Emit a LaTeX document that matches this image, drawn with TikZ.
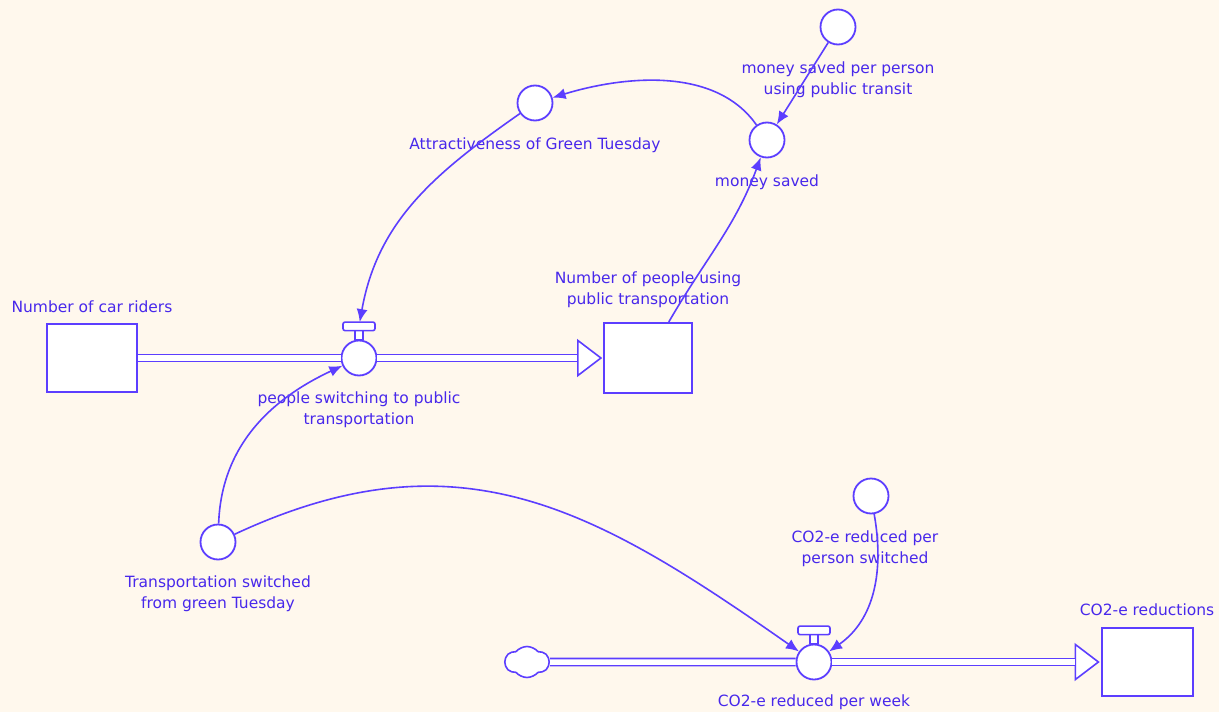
\documentclass[tikz,border=0pt]{standalone}
\usepackage{fontspec}
\setmainfont{DejaVu Sans}
\usetikzlibrary{positioning,arrows.meta,shapes.geometric,shapes.symbols}
\definecolor{sdline}{RGB}{92,62,255}
\definecolor{sdtext}{RGB}{72,40,235}
\definecolor{sdback}{RGB}{255,248,237}

\begin{document}
\begin{tikzpicture}[x=1pt,y=1pt,color=sdline,
	lbl/.style={text=sdtext,font=\fontsize{15.5}{21.5}\selectfont,align=center,inner sep=0pt},
	stock/.style={draw,fill=white,rectangle,minimum width=90pt,minimum height=68pt,line width=2pt},
	aux/.style={draw,fill=white,circle,minimum size=35pt,inner sep=0pt,line width=1.8pt},
	stem/.style={draw,fill=white,rectangle,minimum width=8pt,minimum height=9pt,inner sep=0pt,outer sep=0pt,line width=1.6pt},
	handle/.style={draw,fill=white,rectangle,rounded corners=2pt,minimum width=32pt,minimum height=8.5pt,inner sep=0pt,outer sep=0pt,line width=1.6pt},
	flowtip/.style={draw,fill=white,isosceles triangle,isosceles triangle stretches,minimum width=35pt,minimum height=23pt,inner sep=0pt,line width=1.6pt},
	src/.style={draw,fill=white,cloud,cloud puffs=6,cloud puff arc=100,minimum width=44pt,minimum height=31pt,inner sep=0pt,line width=1.6pt},
	pipe/.style={double=white,double distance=5.5pt,line width=1.7pt},
	link/.style={-{Latex[length=13pt,width=11pt]},line width=1.6pt}]
	\fill[sdback] (0,0) rectangle (1219,-712);
	\useasboundingbox (0,0) rectangle (1219,-712);

	\node[stock,label={[lbl,label distance=10pt]above:Number of car riders}] (car) at (92,-358) {};
	\node[stock,minimum width=88pt,minimum height=70pt,label={[lbl,label distance=14pt]above:Number of people using\\public transportation}] (pub) at (648,-358) {};
	\node[stock,minimum width=91pt,label={[lbl,label distance=11pt]above:CO2-e reductions}] (red) at (1147,-662) {};

	\node[aux,label={[lbl,label distance=16pt]below:money saved per person\\using public transit}] (msp) at (838,-27) {};
	\node[aux,label={[lbl,label distance=16pt]below:money saved}] (ms) at (767,-140) {};
	\node[aux,label={[lbl,label distance=16pt]below:Attractiveness of Green Tuesday}] (attr) at (535,-103) {};
	\node[aux,label={[lbl,label distance=15pt]below:Transportation switched\\from green Tuesday}] (trans) at (218,-542) {};
	\node[aux,label={[lbl,label distance=16pt,xshift=-6pt]below:CO2-e reduced per\\person switched}] (cpp) at (871,-496) {};

	\node[aux,label={[lbl,label distance=15pt]below:people switching to public\\transportation}] (v1) at (359,-358) {};
	\node[stem,above=0pt of v1] (v1s) {};
	\node[handle,above=0pt of v1s] (v1h) {};
	\node[aux,label={[lbl,label distance=14pt]below:CO2-e reduced per week}] (v2) at (814,-662) {};
	\node[stem,above=0pt of v2] (v2s) {};
	\node[handle,above=0pt of v2s] (v2h) {};

	\node[src] (cloud) at (527,-662) {};
	\node[flowtip,left=0pt of pub] (t1) {};
	\node[flowtip,left=0pt of red] (t2) {};

	\draw[pipe] (car) -- (v1);
	\draw[pipe] (v1) -- (t1);
	\draw[pipe] (cloud) -- (v2);
	\draw[pipe] (v2) -- (t2);

	\path[link]
	(msp) edge (ms)
	(ms) edge[out=125,in=17,looseness=0.9] (attr)
	(attr) edge[out=215,in=80] (v1h)
	(pub) edge[out=60,in=250] (ms)
	(trans) edge[out=88,in=205] (v1)
	(trans) edge[out=25,in=145,looseness=1.1] (v2)
	(cpp) edge[out=-80,in=35] (v2);
\end{tikzpicture}
\end{document}
